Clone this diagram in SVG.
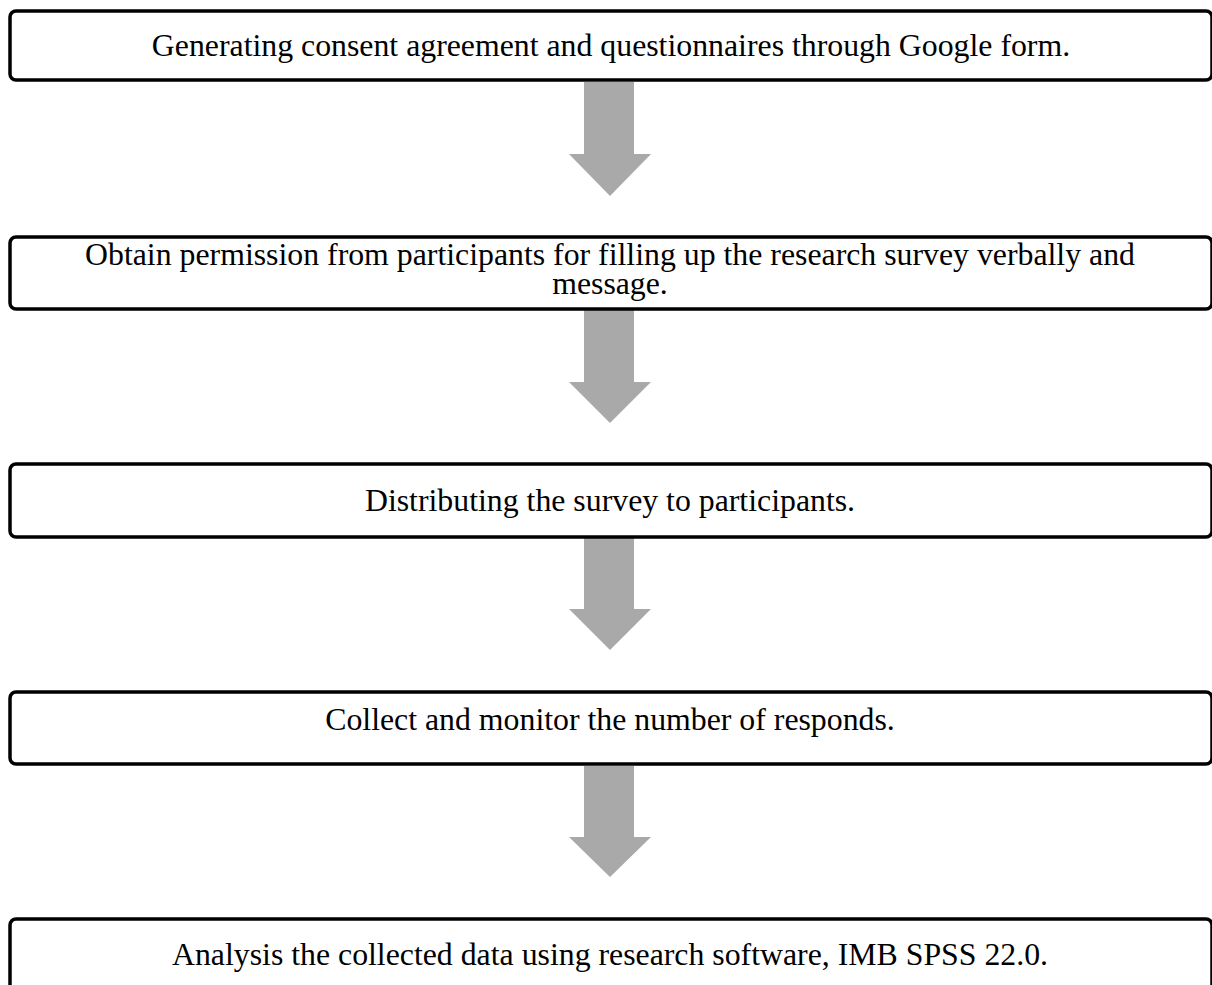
<svg xmlns="http://www.w3.org/2000/svg" width="1212" height="985" viewBox="0 0 1212 985">
<style>
.box{fill:#ffffff;stroke:#000000;stroke-width:3.5}
.lbl{font-family:"Liberation Serif","Times New Roman",serif;font-size:31.8px;fill:#000000;text-anchor:middle}
.arr{fill:#a9a9a9;stroke:none}
</style>
<rect x="0" y="0" width="1212" height="985" fill="#ffffff"/>
<g id="connectors">
<polygon class="arr" points="584,82 634,82 634,154 651,154 610,196 569,154 584,154"/>
<polygon class="arr" points="584,310 634,310 634,382 651,382 610,423 569,382 584,382"/>
<polygon class="arr" points="584,537 634,537 634,609 651,609 610,650 569,609 584,609"/>
<polygon class="arr" points="584,766 634,766 634,837 651,837 610,877 569,837 584,837"/>
</g>
<g id="node1">
<rect class="box" x="10" y="11" width="1202" height="69" rx="6"/>
<text class="lbl" x="611" y="56">Generating consent agreement and questionnaires through Google form.</text>
</g>
<g id="node2">
<rect class="box" x="10" y="237" width="1202" height="72" rx="6"/>
<text class="lbl" x="610" y="265">Obtain permission from participants for filling up the research survey verbally and</text>
<text class="lbl" x="610" y="294">message.</text>
</g>
<g id="node3">
<rect class="box" x="10" y="464" width="1202" height="73" rx="6"/>
<text class="lbl" x="610" y="511">Distributing the survey to participants.</text>
</g>
<g id="node4">
<rect class="box" x="10" y="692" width="1202" height="72" rx="6"/>
<text class="lbl" x="610" y="730">Collect and monitor the number of responds.</text>
</g>
<g id="node5">
<rect class="box" x="10" y="919" width="1202" height="100" rx="6"/>
<text class="lbl" x="610" y="965">Analysis the collected data using research software, IMB SPSS 22.0.</text>
</g>
</svg>
